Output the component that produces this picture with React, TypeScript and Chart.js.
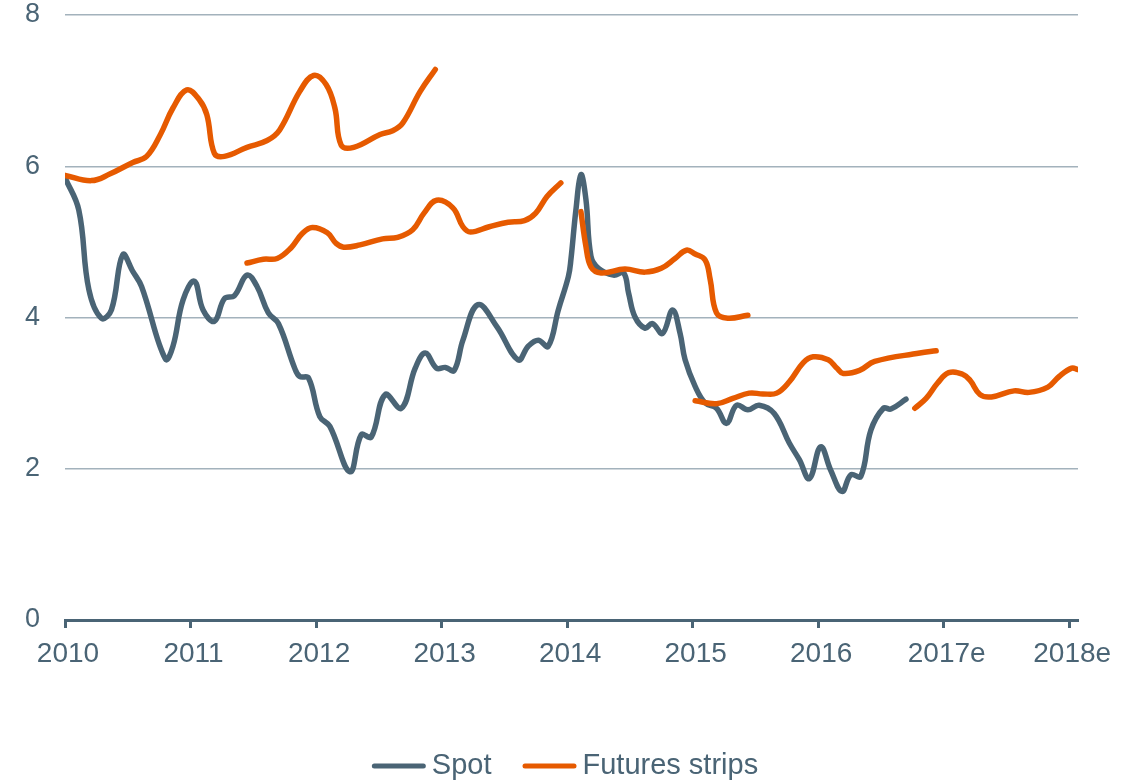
import React, { useEffect, useRef } from "react";
import { Chart, registerables } from "chart.js";

Chart.register(...registerables);

// ---- data ----
const yearTicks = [2010, 2011, 2012, 2013, 2014, 2015, 2016, 2017, 2018];
const yearLabels = ["2010", "2011", "2012", "2013", "2014", "2015", "2016", "2017e", "2018e"];
const legendLabels = ["Spot", "Futures strips"];

const spotYears = [
  2010.0, 2010.11, 2010.19, 2010.29, 2010.37, 2010.46, 2010.54, 2010.61, 2010.8, 2010.86,
  2010.94, 2011.03, 2011.1, 2011.19, 2011.27, 2011.35, 2011.45, 2011.53, 2011.62, 2011.7,
  2011.83, 2011.87, 2011.94, 2012.03, 2012.11, 2012.27, 2012.36, 2012.44, 2012.55, 2012.68,
  2012.79, 2012.87, 2012.96, 2013.03, 2013.1, 2013.17, 2013.29, 2013.44, 2013.61, 2013.69,
  2013.77, 2013.85, 2013.93, 2014.01, 2014.03, 2014.07, 2014.11, 2014.15, 2014.19, 2014.25,
  2014.37, 2014.45, 2014.49, 2014.54, 2014.62, 2014.68, 2014.76, 2014.84, 2014.9, 2014.94,
  2015.02, 2015.1, 2015.19, 2015.27, 2015.35, 2015.44, 2015.53, 2015.65, 2015.77, 2015.85,
  2015.93, 2016.02, 2016.1, 2016.19, 2016.26, 2016.34, 2016.42, 2016.52, 2016.58, 2016.7,
];
const spotValues = [
  5.85, 5.42, 4.37, 3.99, 4.1, 4.83, 4.61, 4.41, 3.45, 3.62,
  4.23, 4.48, 4.1, 3.95, 4.25, 4.29, 4.56, 4.41, 4.06, 3.92,
  3.33, 3.22, 3.2, 2.69, 2.56, 1.96, 2.45, 2.42, 2.98, 2.8,
  3.33, 3.53, 3.33, 3.34, 3.3, 3.7, 4.17, 3.88, 3.44, 3.62,
  3.7, 3.62, 4.1, 4.54, 4.76, 5.42, 5.89, 5.56, 4.81, 4.65,
  4.56, 4.59, 4.32, 4.01, 3.86, 3.92, 3.79, 4.1, 3.79, 3.44,
  3.09, 2.87, 2.8, 2.6, 2.84, 2.78, 2.84, 2.73, 2.34, 2.12,
  1.87, 2.29, 1.98, 1.7, 1.92, 1.9, 2.51, 2.8, 2.79, 2.92,
];

const strip1Years = [2010.0, 2010.21, 2010.36, 2010.54, 2010.65, 2010.76, 2010.86, 2010.97, 2011.07, 2011.13, 2011.19, 2011.27, 2011.45, 2011.61, 2011.71, 2011.87, 2011.98, 2012.08, 2012.15, 2012.2, 2012.3, 2012.51, 2012.61, 2012.69, 2012.83, 2012.95];
const strip1Values = [5.88, 5.81, 5.9, 6.05, 6.13, 6.42, 6.77, 7.01, 6.88, 6.68, 6.17, 6.13, 6.25, 6.34, 6.48, 6.99, 7.2, 7.08, 6.77, 6.28, 6.25, 6.42, 6.47, 6.57, 6.99, 7.28];

const strip2Years = [2011.45, 2011.58, 2011.69, 2011.8, 2011.89, 2011.97, 2012.09, 2012.16, 2012.22, 2012.35, 2012.53, 2012.65, 2012.77, 2012.86, 2012.96, 2013.09, 2013.17, 2013.23, 2013.38, 2013.53, 2013.66, 2013.75, 2013.84, 2013.95];
const strip2Values = [4.72, 4.77, 4.78, 4.92, 5.11, 5.19, 5.12, 4.98, 4.93, 4.96, 5.04, 5.06, 5.16, 5.38, 5.55, 5.45, 5.2, 5.13, 5.2, 5.26, 5.28, 5.38, 5.6, 5.78];

const strip3Years = [2014.11, 2014.15, 2014.19, 2014.27, 2014.46, 2014.62, 2014.75, 2014.86, 2014.95, 2015.02, 2015.1, 2015.14, 2015.19, 2015.28, 2015.44];
const strip3Values = [5.4, 4.94, 4.67, 4.59, 4.64, 4.6, 4.65, 4.78, 4.89, 4.84, 4.76, 4.5, 4.06, 3.99, 4.03];

const strip4Years = [2015.02, 2015.19, 2015.32, 2015.45, 2015.56, 2015.67, 2015.77, 2015.88, 2015.96, 2016.08, 2016.15, 2016.2, 2016.33, 2016.45, 2016.81, 2016.94];
const strip4Values = [2.9, 2.86, 2.93, 3.0, 2.99, 3.0, 3.15, 3.4, 3.48, 3.44, 3.33, 3.26, 3.3, 3.42, 3.53, 3.56];

const strip5Years = [2016.77, 2016.86, 2016.95, 2017.04, 2017.15, 2017.21, 2017.29, 2017.38, 2017.56, 2017.68, 2017.83, 2017.92, 2018.02, 2018.07];
const strip5Values = [2.8, 2.93, 3.13, 3.27, 3.25, 3.17, 2.98, 2.95, 3.03, 3.01, 3.08, 3.22, 3.33, 3.31];

const SPOT = "#4a6475";
const ORANGE = "#e65a00";
const TEXT = "#4a6475";
const GRID = "#a3b2bc";
const FAMILY = "'Liberation Sans', Arial, sans-serif";

const toPoints = (xs: number[], ys: number[]) => xs.map((x, i) => ({ x, y: ys[i] }));

// Legend drawn on the canvas below the x axis (line swatch + text, close together)
const bottomLegend = {
  id: "bottomLegend",
  afterDraw(chart: any) {
    const ctx = chart.ctx;
    const colors = [SPOT, ORANGE];
    const swatch = 54;
    const gap = 6;
    const itemGap = 31;
    ctx.save();
    ctx.font = `29px ${FAMILY}`;
    const widths = legendLabels.map((t) => ctx.measureText(t).width);
    const total = widths.reduce((a, w) => a + swatch + gap + w, 0) + itemGap * (legendLabels.length - 1);
    let x = 565 - total / 2;
    const y = 766;
    ctx.textBaseline = "middle";
    ctx.textAlign = "left";
    legendLabels.forEach((t, i) => {
      ctx.strokeStyle = colors[i];
      ctx.lineWidth = 5;
      ctx.lineCap = "round";
      ctx.beginPath();
      ctx.moveTo(x + 2.5, y);
      ctx.lineTo(x + swatch - 2.5, y);
      ctx.stroke();
      ctx.fillStyle = TEXT;
      ctx.fillText(t, x + swatch + gap, y);
      x += swatch + gap + widths[i] + itemGap;
    });
    ctx.restore();
  },
};

export default function App() {
  const ref = useRef<HTMLCanvasElement | null>(null);

  useEffect(() => {
    document.body.style.margin = "0";
    document.body.style.overflow = "hidden";
    const canvas = ref.current;
    if (!canvas) return;

    const strips = [
      [strip1Years, strip1Values],
      [strip2Years, strip2Values],
      [strip3Years, strip3Values],
      [strip4Years, strip4Values],
      [strip5Years, strip5Values],
    ];

    const lineCommon = {
      borderWidth: 5.5,
      pointRadius: 0,
      tension: 0.4,
      fill: false,
      borderCapStyle: "round" as const,
      borderJoinStyle: "round" as const,
    };

    const chart = new Chart(canvas, {
      type: "line",
      data: {
        datasets: [
          {
            label: legendLabels[0],
            data: toPoints(spotYears, spotValues),
            borderColor: SPOT,
            backgroundColor: SPOT,
            order: 2,
            ...lineCommon,
          },
          ...strips.map(([xs, ys]) => ({
            label: legendLabels[1],
            data: toPoints(xs, ys),
            borderColor: ORANGE,
            backgroundColor: ORANGE,
            order: 1,
            ...lineCommon,
          })),
        ],
      },
      plugins: [bottomLegend],
      options: {
        responsive: false,
        animation: false,
        devicePixelRatio: 1,
        layout: { padding: { left: 0, right: 62, top: 15, bottom: 0 } },
        plugins: {
          tooltip: { enabled: false },
          legend: { display: false },
        },
        scales: {
          x: {
            type: "linear",
            min: 2010,
            max: 2018.07,
            afterFit: (scale: any) => {
              scale.height = 163;
              scale.paddingLeft = 0;
              scale.paddingRight = 0;
            },
            afterBuildTicks: (scale: any) => {
              scale.ticks = yearTicks.map((v) => ({ value: v }));
            },
            ticks: {
              color: TEXT,
              font: { family: FAMILY, size: 28 },
              padding: 9,
              labelOffset: 3,
              maxRotation: 0,
              autoSkip: false,
              callback: (value: any) => {
                const i = yearTicks.indexOf(Number(value));
                return i >= 0 ? yearLabels[i] : "";
              },
            },
            grid: {
              drawOnChartArea: false,
              drawTicks: true,
              tickLength: 8,
              tickColor: SPOT,
              tickWidth: 3,
              color: SPOT,
            },
            border: { display: true, color: SPOT, width: 3 },
          },
          y: {
            min: 0,
            max: 8,
            afterFit: (scale: any) => {
              scale.width = 65;
              scale.paddingTop = 0;
              scale.paddingBottom = 0;
            },
            ticks: {
              stepSize: 2,
              color: TEXT,
              font: { family: FAMILY, size: 27 },
              padding: 25,
            },
            grid: {
              drawTicks: false,
              color: GRID,
              lineWidth: 1.5,
            },
            border: { display: false },
          },
        },
      },
    } as any);

    return () => chart.destroy();
  }, []);

  return (
    <div style={{ width: 1140, height: 783 }}>
      <canvas ref={ref} width={1140} height={783} style={{ display: "block" }} />
    </div>
  );
}
